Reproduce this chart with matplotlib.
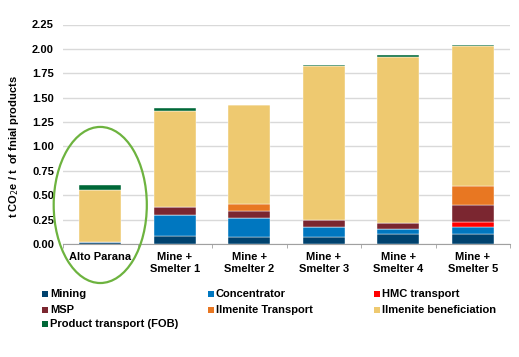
import matplotlib
matplotlib.use('Agg')
import matplotlib.pyplot as plt
from matplotlib.patches import Ellipse, Rectangle
import numpy as np

plt.rcParams['font.family'] = ['Liberation Sans', 'DejaVu Sans']

# Categories and stacked components (t CO2e / t of final products)
categories = ['Alto Parana', 'Mine +\nSmelter 1', 'Mine +\nSmelter 2',
              'Mine +\nSmelter 3', 'Mine +\nSmelter 4', 'Mine +\nSmelter 5']
mining = [0.02, 0.08, 0.07, 0.07, 0.105, 0.10]
concentrator = [0.0, 0.215, 0.20, 0.10, 0.045, 0.07]
hmc_transport = [0.0, 0.0, 0.0, 0.0, 0.0, 0.06]
msp = [0.0, 0.085, 0.065, 0.075, 0.065, 0.17]
ilmenite_transport = [0.0, 0.0, 0.07, 0.0, 0.0, 0.195]
ilmenite_benef = [0.53, 0.98, 1.015, 1.575, 1.705, 1.43]
product_transport = [0.055, 0.03, 0.0, 0.015, 0.015, 0.015]

series = [
    ('Mining', mining, '#00426E'),
    ('Concentrator', concentrator, '#0077C0'),
    ('HMC transport', hmc_transport, '#FF0000'),
    ('MSP', msp, '#7B2630'),
    ('Ilmenite Transport', ilmenite_transport, '#E87722'),
    ('Ilmenite beneficiation', ilmenite_benef, '#EEC970'),
    ('Product transport (FOB)', product_transport, '#006838'),
]

W, H = 519, 357
fig = plt.figure(figsize=(W / 100, H / 100), dpi=100)
ax = fig.add_axes([63 / W, 1 - 244 / H, 447 / W, 219.5 / H])

x = np.arange(len(categories))
bottom = np.zeros(len(categories))
for name, vals, color in series:
    vals = np.array(vals)
    ax.bar(x, vals, width=0.56, bottom=bottom, color=color,
           edgecolor='white', linewidth=0.3, zorder=3)
    bottom += vals

ax.set_xlim(-0.5, len(categories) - 0.5)
ax.set_ylim(0, 2.25)
yt = np.arange(0, 2.26, 0.25)
ax.set_yticks(yt)
ax.set_yticklabels(['%.2f' % v for v in yt], fontsize=8, fontweight='bold')
ax.yaxis.grid(True, color='#D9D9D9', linewidth=1, zorder=0)
ax.tick_params(axis='y', length=0, pad=6.5)

ax.set_xticks(x)
ax.set_xticklabels(categories, fontsize=8, fontweight='bold', linespacing=1.15)
ax.set_xticks(np.arange(-0.5, len(categories), 1), minor=True)
ax.tick_params(axis='x', which='major', length=0, pad=6)
ax.tick_params(axis='x', which='minor', length=3, color='#A0A0A0')

for s in ['top', 'right', 'left']:
    ax.spines[s].set_visible(False)
ax.spines['bottom'].set_color('#A0A0A0')

ax.set_ylabel('t CO$_2$e / t  of fnial products', fontsize=8,
              fontweight='bold')
ax.yaxis.set_label_coords(-0.094, 0.442)

# Highlight circle around Alto Parana
ell = Ellipse((0, 0.40), width=1.25, height=1.6, fill=False,
              edgecolor='#6DB33F', linewidth=1.6, clip_on=False, zorder=5)
ax.add_patch(ell)

# Legend laid out row by row, as in the original
legend_cols = [42, 208, 374]
legend_rows = [294, 310, 324]
for i, (name, vals, color) in enumerate(series):
    px = legend_cols[i % 3]
    py = legend_rows[i // 3]
    fig.patches.append(Rectangle((px / W, (H - py - 3) / H), 6 / W, 6 / H,
                                 transform=fig.transFigure, facecolor=color,
                                 edgecolor='none'))
    fig.text((px + 8) / W, (H - py) / H, name, fontsize=8, fontweight='bold',
             va='center', ha='left')

fig.savefig('out.png', dpi=100)
